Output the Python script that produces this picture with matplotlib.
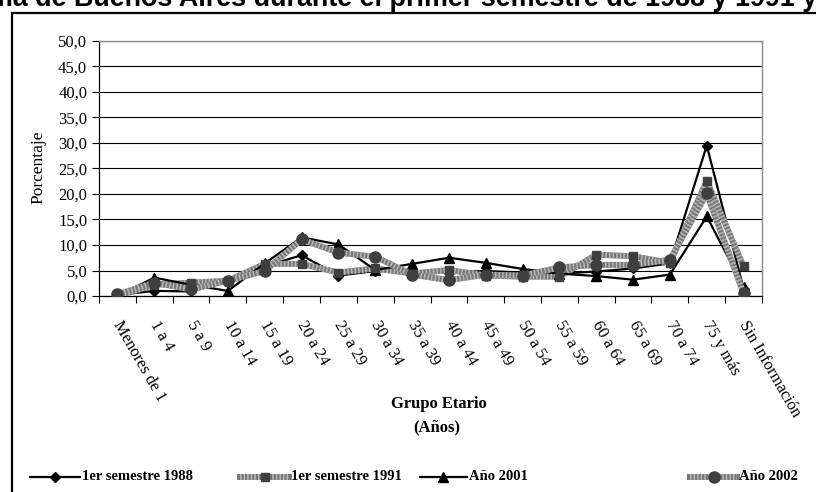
import numpy as np
import matplotlib.pyplot as plt
import matplotlib.transforms as mtransforms
from matplotlib.lines import Line2D
from matplotlib.patches import Rectangle

# grupos etarios y porcentajes
grupos = ["Menores de 1", "1 a 4", "5 a 9", "10 a 14", "15 a 19", "20 a 24",
          "25 a 29", "30 a 34", "35 a 39", "40 a 44", "45 a 49", "50 a 54",
          "55 a 59", "60 a 64", "65 a 69", "70 a 74", "75 y más", "Sin Información"]
sem_1988 = [0.2, 1.0, 0.9, 2.8, 5.8, 8.0, 4.0, 4.9, 4.9, 4.6, 4.9, 4.6,
            4.4, 4.8, 5.4, 6.4, 29.5, 1.4]
sem_1991 = [0.0, 2.2, 2.6, 3.0, 6.3, 6.3, 4.6, 5.4, 4.4, 5.1, 4.0, 3.8,
            3.8, 8.1, 7.8, 6.5, 22.6, 5.8]
anio_2001 = [0.0, 3.6, 2.2, 1.0, 6.4, 11.5, 10.1, 5.1, 6.3, 7.5, 6.5, 5.3,
             4.4, 3.9, 3.2, 4.2, 15.6, 1.8]
anio_2002 = [0.3, 2.6, 1.3, 3.0, 4.9, 11.1, 8.5, 7.7, 4.2, 3.1, 4.2, 4.0,
             5.6, 6.1, 6.1, 7.1, 20.1, 0.5]
etiquetas = ["1er semestre 1988", "1er semestre 1991", "Año 2001", "Año 2002"]
yticks = np.arange(0, 51, 5)

W, H = 816, 492
SERIF = "Liberation Serif"


def fx(px):
    return px / W


def fy(py):
    return (H - py) / H


fig = plt.figure(figsize=(W / 100, H / 100), dpi=100)
fig.patch.set_facecolor("white")

# marco del grafico (cortado a la derecha y abajo)
fig.add_artist(Rectangle((fx(12), -0.1), 1.2, fy(13) + 0.1, transform=fig.transFigure,
                         fill=False, edgecolor="black", lw=1.6, clip_on=False))

# titulo recortado
fig.text(fx(-105), fy(6), "Autónoma de Buenos Aires durante el primer semestre de 1988 y 1991 y años 2001 y 2002",
         ha="left", va="baseline", fontsize=19.4, fontweight="bold", family="Liberation Sans")

ax = fig.add_axes([fx(99), fy(296), fx(762) - fx(99), fy(41) - fy(296)])
x = np.arange(len(grupos))


def serie_gris(vals, marker, ms, label):
    ax.plot(x, vals, color="#777777", lw=4.3, zorder=3)
    ax.plot(x, vals, color="#b8b8b8", lw=4.3, ls=(0, (0.25, 0.35)), zorder=3)
    ax.plot(x, vals, ls="none", marker=marker, ms=ms, color="#3f3f3f", zorder=4, label=label)


ax.plot(x, sem_1988, color="black", lw=1.6, marker="D", ms=5.5, zorder=3)
serie_gris(sem_1991, "s", 5.5, etiquetas[1])
ax.plot(x, anio_2001, color="black", lw=1.6, marker="^", ms=6.5, zorder=3)
serie_gris(anio_2002, "o", 8, etiquetas[3])

ax.set_xlim(-0.5, len(grupos) - 0.5)
ax.set_ylim(0, 50)
ax.set_yticks(yticks)
ax.set_yticklabels([f"{v:.1f}".replace(".", ",") for v in yticks], family=SERIF, fontsize=12)
ax.yaxis.grid(True, color="black", lw=0.8)
ax.set_axisbelow(True)
ax.tick_params(axis="y", length=5, width=0.8, pad=3.5)

ax.set_xticks(np.arange(-0.5, len(grupos), 1.0))
ax.set_xticklabels([])
ax.tick_params(axis="x", length=5, width=0.8)

for s in ["left", "bottom"]:
    ax.spines[s].set_color("black")
    ax.spines[s].set_linewidth(0.9)
for s in ["top", "right"]:
    ax.spines[s].set_color("#8a8a8a")
    ax.spines[s].set_linewidth(1.0)

# etiquetas de categorias giradas
base = mtransforms.blended_transform_factory(ax.transData, ax.transAxes)
off = mtransforms.ScaledTranslation(6 / 100, -22 / 100, fig.dpi_scale_trans)
for i, g in enumerate(grupos):
    ax.text(i, 0, g, transform=base + off, rotation=-60, rotation_mode="anchor",
            ha="left", va="top", family=SERIF, fontsize=12)

fig.text(fx(38), fy(167), "Porcentaje", rotation=90, ha="center", va="center",
         family=SERIF, fontsize=12.5)
fig.text(fx(439), fy(404), "Grupo Etario", ha="center", va="center",
         family=SERIF, fontsize=12, fontweight="bold")
fig.text(fx(437), fy(427), "(Años)", ha="center", va="center",
         family=SERIF, fontsize=12, fontweight="bold")

# leyenda
ly = 477
muestras = [(30, 80), (240, 289), (420, 467), (690, 737)]
estilos = [("black", "D", 5.5, False), ("#3f3f3f", "s", 5.5, True),
           ("black", "^", 6.5, False), ("#3f3f3f", "o", 8, True)]
for (x0, x1), (c, m, ms, gris), lab in zip(muestras, estilos, etiquetas):
    xs = [fx(x0), fx(x1)]
    ys = [fy(ly), fy(ly)]
    if gris:
        fig.add_artist(Line2D(xs, ys, color="#777777", lw=4.3, transform=fig.transFigure))
        fig.add_artist(Line2D(xs, ys, color="#b8b8b8", lw=4.3, ls=(0, (0.25, 0.35)),
                              transform=fig.transFigure))
    else:
        fig.add_artist(Line2D(xs, ys, color="black", lw=1.6, transform=fig.transFigure))
    fig.add_artist(Line2D([fx((x0 + x1) / 2)], [fy(ly)], ls="none", marker=m, ms=ms,
                          color=c, transform=fig.transFigure))
    fig.text(fx(x1 + 2), fy(ly), lab, ha="left", va="center", family=SERIF,
             fontsize=10.5, fontweight="bold")

fig.savefig("out.png", dpi=100)
